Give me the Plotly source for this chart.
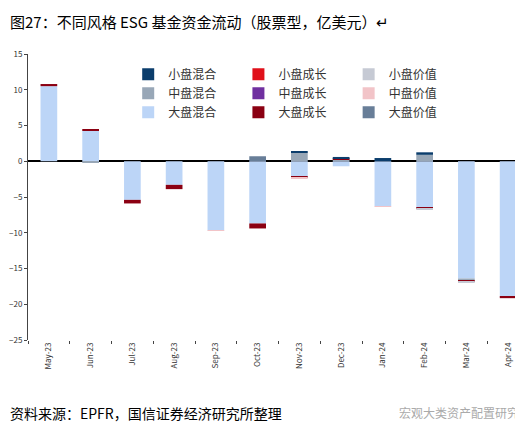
import plotly.graph_objects as go

months = ["May-23", "Jun-23", "Jul-23", "Aug-23", "Sep-23", "Oct-23",
          "Nov-23", "Dec-23", "Jan-24", "Feb-24", "Mar-24", "Apr-24"]

large_blend = [10.5, 4.3, -5.4, -3.3, -9.7, -8.7, -2.2, -0.7, -6.3, -6.5, -16.4, -18.9]
large_growth = [0.3, 0.2, -0.5, -0.6, 0, -0.7, -0.1, 0.15, 0, -0.15, -0.15, -0.25]
large_value = [0, 0, 0, 0, 0, 0.7, 0, 0, 0, 0, 0, 0]
mid_blend = [0, -0.2, 0, 0, 0, 0, 1.2, 0.3, 0, 0.9, -0.3, 0]
mid_growth = [0] * 12
mid_value = [0, 0, 0, 0, -0.05, 0, -0.1, 0, -0.05, 0, 0, 0]
small_blend = [0, 0, 0, 0, 0, 0, 0.15, 0.15, 0.45, 0.35, 0, 0]
small_growth = [0] * 12
small_value = [0, 0, 0, 0, 0, 0, 0, 0, 0, -0.1, -0.15, 0]

# (name, values, colour, legend column, rank) - list order is the stacking order
series = [
    ("大盘混合", large_blend, "#bcd5f7", "legend", 3),
    ("中盘混合", mid_blend, "#98a7b7", "legend", 2),
    ("大盘成长", large_growth, "#8b0012", "legend2", 3),
    ("小盘混合", small_blend, "#0b3d6c", "legend", 1),
    ("大盘价值", large_value, "#687e98", "legend3", 3),
    ("中盘价值", mid_value, "#f2c4c8", "legend3", 2),
    ("小盘价值", small_value, "#c6cad4", "legend3", 1),
    ("中盘成长", mid_growth, "#7030a0", "legend2", 2),
    ("小盘成长", small_growth, "#e0101a", "legend2", 1),
]

fig = go.Figure()
for name, vals, color, leg, rank in series:
    fig.add_trace(go.Bar(x=months, y=vals, name=name, legend=leg, legendrank=rank,
                         marker=dict(color=color, line=dict(width=0))))

leg_style = dict(y=0.98, xanchor="left", yanchor="top", font=dict(size=12),
                 bgcolor="rgba(0,0,0,0)", itemwidth=30, tracegroupgap=0)

fig.update_layout(
    width=523, height=432, barmode="relative", bargap=0.6,
    paper_bgcolor="white", plot_bgcolor="white",
    margin=dict(l=20, r=2, t=46, b=100),
    font=dict(family="Noto Sans CJK SC", size=10, color="#333"),
    legend=dict(x=0.2, **leg_style),
    legend2=dict(x=0.42, **leg_style),
    legend3=dict(x=0.64, **leg_style),
    xaxis=dict(tickangle=-90, tickfont=dict(size=8), ticks="outside",
               tickson="boundaries", ticklen=3, showgrid=False, showline=False),
    yaxis=dict(range=[-25, 15], dtick=5, showgrid=False, showline=True,
               linecolor="#444", ticks="outside", ticklen=3, zeroline=True,
               zerolinecolor="black", zerolinewidth=1.5, tickfont=dict(size=8)),
    annotations=[
        dict(text="图27：不同风格 ESG 基金资金流动（股票型，亿美元）↵", xref="paper", yref="paper",
             x=-0.04, y=1.115, xanchor="left", yanchor="middle", showarrow=False,
             font=dict(size=15, color="black")),
        dict(text="资料来源：EPFR，国信证券经济研究所整理", xref="paper", yref="paper",
             x=-0.04, y=-0.255, xanchor="left", yanchor="middle", showarrow=False,
             font=dict(size=14, color="black")),
        dict(text="宏观大类资产配置研究", xref="paper", yref="paper",
             x=0.985, y=-0.255, xanchor="right", yanchor="middle", showarrow=False,
             font=dict(size=12, color="#aaa")),
    ],
)

fig.write_html("out.html")
